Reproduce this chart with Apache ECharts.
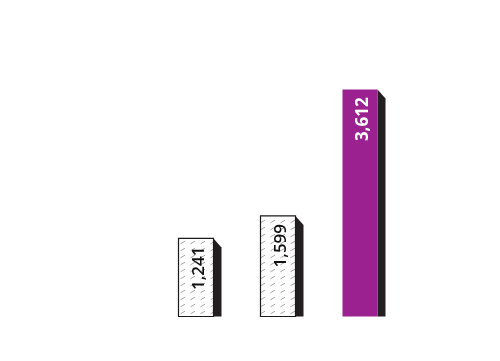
<!DOCTYPE html>
<html><head><meta charset="utf-8">
<script src="https://cdn.jsdelivr.net/npm/echarts@6/dist/echarts.min.js"></script>
<style>html,body{margin:0;padding:0;background:#fff}#c{width:500px;height:361px}</style>
</head><body><div id="c"></div>
<script>
var categories = ['A', 'B', 'C'];
var values = [1241, 1599, 3612];
var labels = ['1,241', '1,599', '3,612'];
var highlight = [false, false, true];

function makePattern() {
  var c = document.createElement('canvas');
  c.width = 10; c.height = 7;
  var g = c.getContext('2d');
  g.fillStyle = '#fff'; g.fillRect(0, 0, 10, 7);
  g.strokeStyle = '#8f8f8f'; g.lineWidth = 0.8;
  g.beginPath(); g.moveTo(0.5, 5.8); g.lineTo(5, 3.2); g.stroke();
  return c;
}
var pat = makePattern();

var chart = echarts.init(document.getElementById('c'), null, {renderer: 'canvas'});
chart.setOption({
  animation: false,
  grid: {left: 155, right: 99, top: 65, bottom: 44.5},
  xAxis: {type: 'category', data: categories, show: false},
  yAxis: {type: 'value', min: 0, max: 4000, show: false},
  series: [{
    type: 'custom',
    data: values.map(function (v, i) { return [i, v]; }),
    renderItem: function (params, api) {
      var i = api.value(0), v = api.value(1);
      var top = api.coord([i, v]);
      var base = api.coord([i, 0]);
      var w = 35, d = 8;
      var x = top[0] - w / 2, y = top[1], b = base[1];
      var hi = highlight[params.dataIndex];
      return {
        type: 'group',
        children: [
          {type: 'polygon', shape: {points: [[x + w, y], [x + w + d, y + d + 1], [x + w + d, b], [x + w, b]]},
           style: {fill: '#231f20'}},
          {type: 'rect', shape: {x: x, y: y, width: w, height: b - y},
           style: hi ? {fill: '#9b2191'} : {fill: {image: pat, repeat: 'repeat'}, stroke: '#1a1a1a', lineWidth: 1.2}},
          {type: 'text', x: top[0] + 3, y: y + 8, rotation: Math.PI / 2,
           style: {text: labels[params.dataIndex], fill: hi ? '#fff' : '#111', align: 'right', verticalAlign: 'middle',
                   font: (hi ? 'bold' : '600') + ' 17px "Open Sans", sans-serif'}}
        ]
      };
    }
  }]
});
</script></body></html>
